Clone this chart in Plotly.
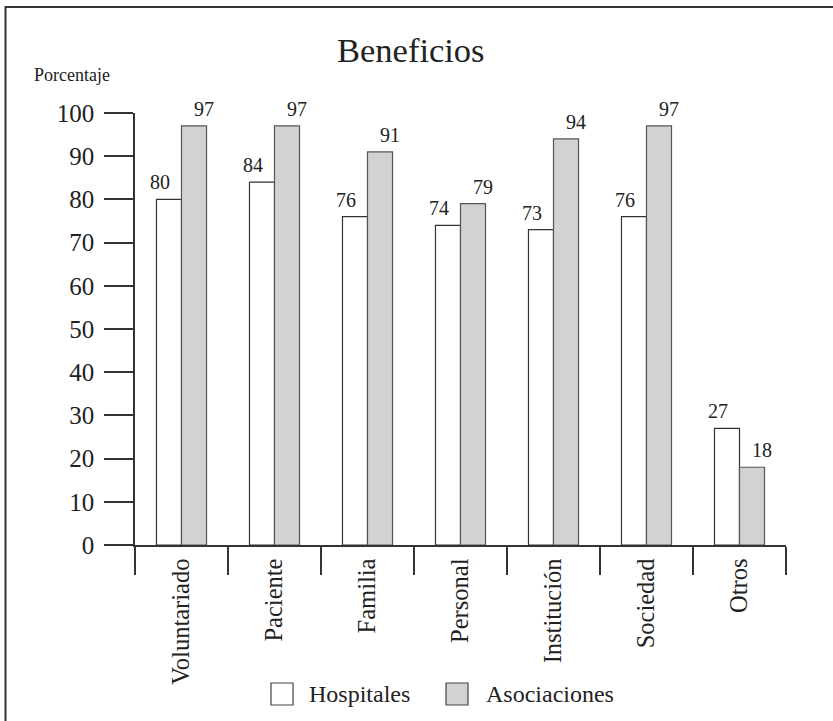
import plotly.graph_objects as go

# Data
categorias = ["Voluntariado", "Paciente", "Familia", "Personal", "Institución", "Sociedad", "Otros"]
hospitales = [80, 84, 76, 74, 73, 76, 27]
asociaciones = [97, 97, 91, 79, 94, 97, 18]
series_nombres = ["Hospitales", "Asociaciones"]
y_ticks = [0, 10, 20, 30, 40, 50, 60, 70, 80, 90, 100]

# Canvas and plot-area geometry (pixels)
W, H = 833, 721
ML, MR, MT, MB = 135, 47, 113, 176
PW, PH = W - ML - MR, H - MT - MB

FONT = "Liberation Serif, Times New Roman, serif"
INK = "#222222"
LINE = "#333333"
GRIS = "#d1d2d4"


def px_x(px):
    return (px - ML) / PW


def px_y(py):
    return 1 - (py - MT) / PH


fig = go.Figure()
fig.add_trace(go.Bar(
    x=categorias, y=hospitales, name=series_nombres[0],
    marker=dict(color="white", line=dict(color=LINE, width=1.2)),
    showlegend=False, cliponaxis=False,
))
fig.add_trace(go.Bar(
    x=categorias, y=asociaciones, name=series_nombres[1],
    marker=dict(color=GRIS, line=dict(color="#555555", width=1.2)),
    showlegend=False, cliponaxis=False,
))

annotations = []
# Value labels above each bar, nudged outward from the pair
for cat, vh, va in zip(categorias, hospitales, asociaciones):
    annotations.append(dict(x=cat, y=vh, xref="x", yref="y", text=str(vh),
                            showarrow=False, xshift=-22, yshift=4, yanchor="bottom",
                            font=dict(family=FONT, size=20, color=INK)))
    annotations.append(dict(x=cat, y=va, xref="x", yref="y", text=str(va),
                            showarrow=False, xshift=22, yshift=4, yanchor="bottom",
                            font=dict(family=FONT, size=20, color=INK)))

# Title and axis caption
annotations.append(dict(x=px_x(411), y=px_y(50), xref="paper", yref="paper",
                        text="Beneficios", showarrow=False, xanchor="center", yanchor="middle",
                        font=dict(family=FONT, size=34.5, color=INK)))
annotations.append(dict(x=px_x(71.5), y=px_y(75), xref="paper", yref="paper",
                        text="Porcentaje", showarrow=False, xanchor="center", yanchor="middle",
                        font=dict(family=FONT, size=18, color=INK)))

# Legend drawn as swatches + labels
shapes = []
leg_items = [(series_nombres[0], "white", 271, 307), (series_nombres[1], GRIS, 446, 484)]
for name, fill, bx, tx in leg_items:
    shapes.append(dict(type="rect", xref="paper", yref="paper",
                       x0=px_x(bx), x1=px_x(bx + 22), y0=px_y(683), y1=px_y(705),
                       fillcolor=fill, line=dict(color="#444444", width=1.2)))
    annotations.append(dict(x=px_x(tx), y=px_y(694), xref="paper", yref="paper",
                            text=name, showarrow=False, xanchor="left", yanchor="middle",
                            font=dict(family=FONT, size=24, color=INK)))

# Frame lines on the top and left edges
shapes.append(dict(type="line", xref="paper", yref="paper",
                   x0=px_x(5), x1=px_x(W + 5), y0=px_y(7), y1=px_y(7),
                   line=dict(color=LINE, width=2)))
shapes.append(dict(type="line", xref="paper", yref="paper",
                   x0=px_x(5.5), x1=px_x(5.5), y0=px_y(6), y1=px_y(H + 5),
                   line=dict(color=LINE, width=2)))

fig.update_layout(
    width=W, height=H,
    margin=dict(l=ML, r=MR, t=MT, b=MB, pad=0),
    paper_bgcolor="white", plot_bgcolor="white",
    barmode="group", bargap=0.462, bargroupgap=0,
    font=dict(family=FONT, color=INK),
    annotations=annotations, shapes=shapes,
    showlegend=False,
)
fig.update_xaxes(
    type="category", showgrid=False, zeroline=False,
    showline=True, linecolor=LINE, linewidth=1.5,
    ticks="outside", tickson="boundaries", ticklen=28, tickwidth=1.5, tickcolor=LINE,
    tickangle=-90, tickfont=dict(family=FONT, size=24.5, color=INK),
    ticklabelstandoff=2,
)
fig.update_yaxes(
    range=[0, 100], tickvals=y_ticks, showgrid=False, zeroline=False,
    showline=True, linecolor=LINE, linewidth=1.5,
    ticks="outside", ticklen=29, tickwidth=1.5, tickcolor=LINE,
    tickfont=dict(family=FONT, size=25, color=INK),
    ticklabelstandoff=5,
)

fig.write_html("out.html")
